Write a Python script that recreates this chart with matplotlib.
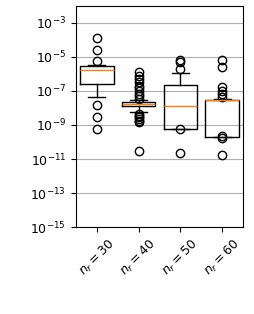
import numpy as np
import matplotlib
matplotlib.use("Agg")
import matplotlib.pyplot as plt
from matplotlib.ticker import NullLocator

# box statistics, as log10 values
labels = [r'$n_r = 30$', r'$n_r = 40$', r'$n_r = 50$', r'$n_r = 60$']
med = [-5.77, -7.74, -7.90, -7.53]
q1 = [-6.56, -7.88, -9.22, -9.69]
q3 = [-5.51, -7.62, -6.66, -7.53]
whislo = [-7.33, -8.24, -9.22, -9.69]
whishi = [-5.45, -7.55, -5.95, -7.50]
fliers = [
    [-3.88, -4.59, -5.25, -7.82, -8.51, -9.26],
    [-5.90, -6.10, -6.30, -6.50, -6.70, -6.85, -7.00, -7.15, -7.30, -7.45,
     -8.35, -8.45, -8.55, -8.65, -8.75, -8.85, -10.50],
    [-5.16, -5.31, -5.71, -9.26, -10.64],
    [-5.16, -5.57, -6.79, -6.99, -7.19, -7.33, -9.62, -9.75, -10.78],
]

stats = []
for i in range(len(labels)):
    stats.append(dict(med=10**med[i], q1=10**q1[i], q3=10**q3[i],
                      whislo=10**whislo[i], whishi=10**whishi[i],
                      fliers=10**np.array(fliers[i]), label=labels[i]))

fig = plt.figure(figsize=(2.54, 3.14), dpi=100)
ax = fig.add_axes([0.299, 0.277, 0.658, 0.704])
ax.bxp(stats, widths=0.8)
ax.set_yscale('log')
ax.set_ylim(1e-15, 1e-2)
ax.yaxis.set_minor_locator(NullLocator())
ax.yaxis.grid(True)
ax.tick_params(axis='x', labelrotation=45)
ax.tick_params(labelsize=9)
fig.savefig('out.png')
